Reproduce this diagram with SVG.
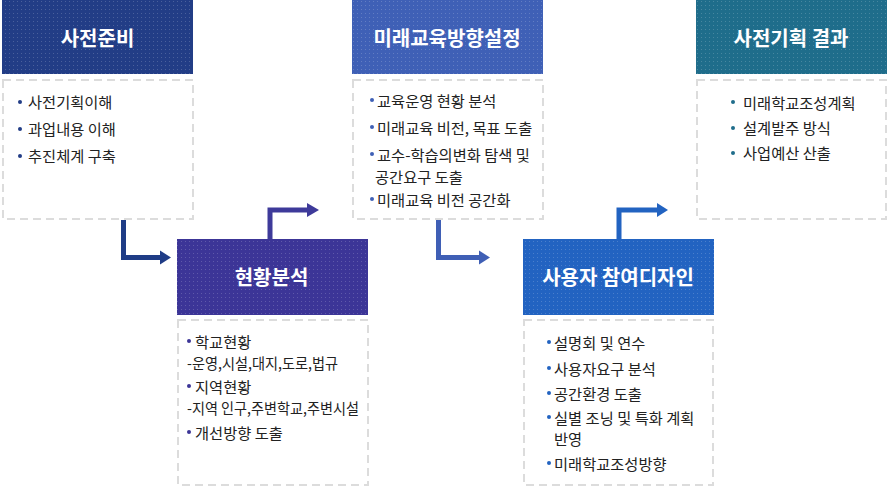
<svg xmlns="http://www.w3.org/2000/svg" width="890" height="494" viewBox="0 0 890 494">
<style>
.hd{font-family:"Noto Sans CJK KR","Noto Sans",sans-serif;font-size:20px;font-weight:700;fill:#fff;text-anchor:middle}
.tx{font-family:"Noto Sans CJK KR","Noto Sans",sans-serif;font-size:15.3px;fill:#222}
.db{fill:#fff;stroke:#dcdcdc;stroke-width:2;stroke-dasharray:8 5}
.dots{fill:url(#dp)}
.ln{fill:none;stroke-width:5}
</style>
<defs>
<pattern id="dp" width="4" height="4" patternUnits="userSpaceOnUse">
<rect x="1" y="1" width="1" height="1" fill="#fff" fill-opacity="0.18"/>
</pattern>
</defs>
<rect width="890" height="494" fill="#fff"/>
<g id="connectors">
<path class="ln" stroke="#1f3c86" d="M123.5 220V257.5H161"/>
<polygon fill="#1f3c86" points="160,250.5 171,257.5 160,264.5"/>
<path class="ln" stroke="#3e3a9a" d="M270 239V210H308"/>
<polygon fill="#3e3a9a" points="307,203 319,210 307,217"/>
<path class="ln" stroke="#3f5fb5" d="M438.5 220V257.5H480"/>
<polygon fill="#3f5fb5" points="479,250.5 490,257.5 479,264.5"/>
<path class="ln" stroke="#2263c1" d="M619 239V210H658"/>
<polygon fill="#2263c1" points="657,203 668,210 657,217"/>
</g>
<g id="node1">
<rect x="2" y="0" width="191" height="74" fill="#223d86"/>
<rect class="dots" x="2" y="0" width="191" height="74"/>
<text class="hd" x="97.5" y="46">사전준비</text>
<rect class="db" x="3" y="80" width="190" height="139"/>
<g fill="#223d86"><circle cx="20" cy="102" r="2"/><circle cx="20" cy="129" r="2"/><circle cx="20" cy="156" r="2"/></g>
<text class="tx" x="28" y="108">사전기획이해</text>
<text class="tx" x="28" y="135">과업내용 이해</text>
<text class="tx" x="28" y="162">추진체계 구축</text>
</g>
<g id="node2">
<rect x="177" y="239" width="191" height="76" fill="#3c3597"/>
<rect class="dots" x="177" y="239" width="191" height="76"/>
<text class="hd" x="271.5" y="285">현황분석</text>
<rect class="db" x="178" y="320" width="190" height="165"/>
<g fill="#3c3597"><circle cx="189" cy="341" r="2"/><circle cx="189" cy="386" r="2"/><circle cx="189" cy="432" r="2"/></g>
<text class="tx" x="195" y="348">학교현황</text>
<text class="tx" x="187" y="369" textLength="151" lengthAdjust="spacingAndGlyphs">-운영,시설,대지,도로,법규</text>
<text class="tx" x="195" y="393">지역현황</text>
<text class="tx" x="187" y="414" textLength="172" lengthAdjust="spacingAndGlyphs">-지역 인구,주변학교,주변시설</text>
<text class="tx" x="195" y="439">개선방향 도출</text>
</g>
<g id="node3">
<rect x="352" y="0" width="191" height="74" fill="#3f60b6"/>
<rect class="dots" x="352" y="0" width="191" height="74"/>
<text class="hd" x="447" y="46">미래교육방향설정</text>
<rect class="db" x="353" y="80" width="190" height="139"/>
<g fill="#3f60b6"><circle cx="372" cy="100" r="2"/><circle cx="372" cy="127" r="2"/><circle cx="372" cy="154" r="2"/><circle cx="372" cy="199" r="2"/></g>
<text class="tx" x="377" y="107">교육운영 현황 분석</text>
<text class="tx" x="377" y="134">미래교육 비전, 목표 도출</text>
<text class="tx" x="377" y="161">교수-학습의변화 탐색 및</text>
<text class="tx" x="375" y="183">공간요구 도출</text>
<text class="tx" x="377" y="206">미래교육 비전 공간화</text>
</g>
<g id="node4">
<rect x="523" y="239" width="191" height="76" fill="#2263c1"/>
<rect class="dots" x="523" y="239" width="191" height="76"/>
<text class="hd" x="618" y="285">사용자 참여디자인</text>
<rect class="db" x="524" y="320" width="189" height="165"/>
<g fill="#2263c1"><circle cx="549" cy="342" r="2"/><circle cx="549" cy="368" r="2"/><circle cx="549" cy="393" r="2"/><circle cx="549" cy="417" r="2"/><circle cx="549" cy="463" r="2"/></g>
<text class="tx" x="554" y="349">설명회 및 연수</text>
<text class="tx" x="554" y="375">사용자요구 분석</text>
<text class="tx" x="554" y="400">공간환경 도출</text>
<text class="tx" x="554" y="424">실별 조닝 및 특화 계획</text>
<text class="tx" x="554" y="445">반영</text>
<text class="tx" x="554" y="470">미래학교조성방향</text>
</g>
<g id="node5">
<rect x="696" y="0" width="191" height="74" fill="#1f6d8b"/>
<rect class="dots" x="696" y="0" width="191" height="74"/>
<text class="hd" x="791" y="46">사전기획 결과</text>
<rect class="db" x="697" y="80" width="189" height="139"/>
<g fill="#1f6d8b"><circle cx="733" cy="102" r="2"/><circle cx="733" cy="128" r="2"/><circle cx="733" cy="153" r="2"/></g>
<text class="tx" x="743" y="109">미래학교조성계획</text>
<text class="tx" x="743" y="134">설계발주 방식</text>
<text class="tx" x="743" y="159">사업예산 산출</text>
</g>
</svg>
